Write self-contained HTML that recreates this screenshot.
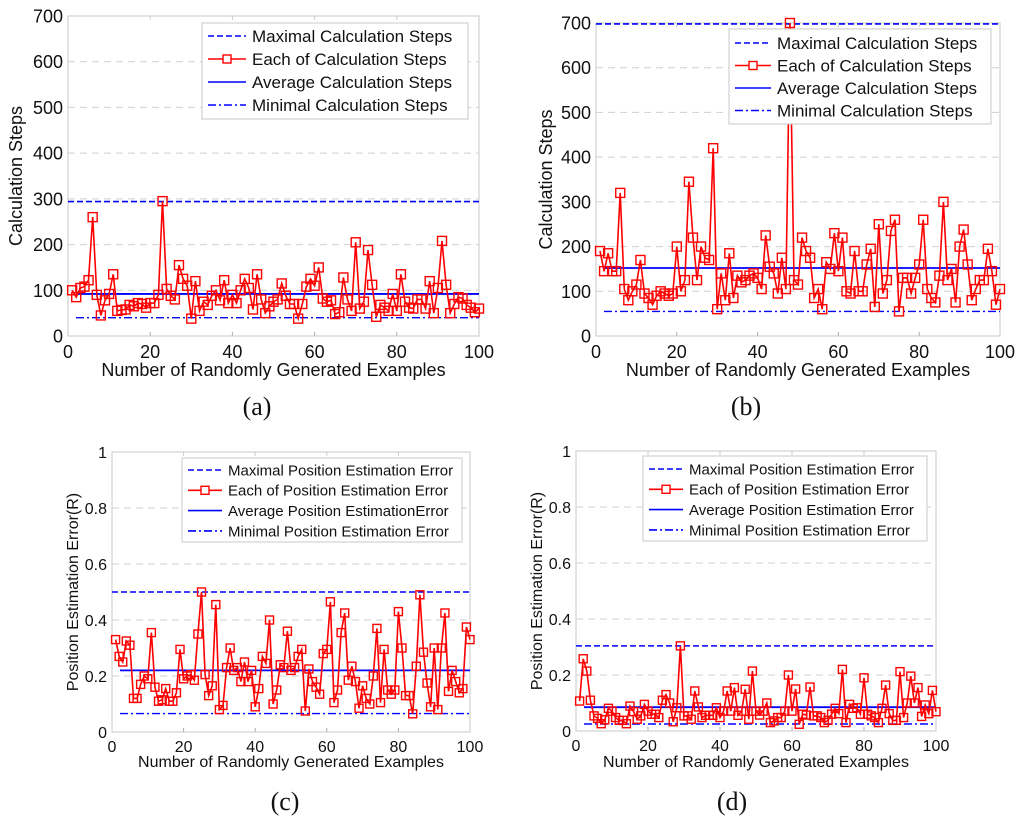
<!DOCTYPE html>
<html><head><meta charset="utf-8"><style>
html,body{margin:0;padding:0;background:#fff;}
svg{display:block;font-family:"Liberation Sans",sans-serif;}
</style></head><body>
<svg id="chart" width="1024" height="822" viewBox="0 0 1024 822" xmlns="http://www.w3.org/2000/svg"></svg>
<script>
const xTicks = [0,20,40,60,80,100];
const stepTicks = [0,100,200,300,400,500,600,700];
const errTicks = [0,0.2,0.4,0.6,0.8,1];
const errTickLabels = ["0","0.2","0.4","0.6","0.8","1"];

const stepsA = [100,85,105,108,122,260,90,45,78,92,135,55,57,58,68,65,72,70,62,72,72,90,295,103,88,80,155,125,110,38,120,55,75,68,88,100,78,122,72,90,72,100,125,105,58,135,80,50,65,75,80,115,88,70,70,38,70,108,125,110,150,82,75,78,48,52,128,80,55,205,60,75,188,112,42,68,62,55,92,55,135,75,62,60,80,80,60,120,50,105,208,112,50,70,85,82,68,62,52,60];
const linesA = [294,92,40];

const stepsB = [190,145,185,145,145,320,105,80,100,115,170,95,85,70,90,100,95,90,95,200,100,125,345,220,125,200,175,170,420,60,140,80,185,85,135,120,125,135,140,130,105,225,155,140,95,175,105,700,125,115,220,190,175,85,105,60,165,150,230,145,220,100,95,190,100,100,160,195,65,250,95,125,235,260,55,130,130,95,130,160,260,105,85,75,135,300,125,150,75,200,238,160,80,105,125,125,195,145,70,105];
const linesB = [698,152,55];

const errC = [0.33,0.27,0.25,0.325,0.31,0.12,0.12,0.17,0.2,0.19,0.355,0.16,0.11,0.115,0.155,0.11,0.11,0.14,0.295,0.19,0.2,0.205,0.185,0.35,0.5,0.205,0.13,0.165,0.455,0.08,0.095,0.23,0.3,0.22,0.23,0.18,0.25,0.18,0.22,0.09,0.155,0.27,0.245,0.4,0.1,0.15,0.24,0.23,0.36,0.22,0.23,0.27,0.295,0.075,0.225,0.18,0.16,0.135,0.28,0.295,0.465,0.105,0.15,0.355,0.425,0.185,0.235,0.18,0.085,0.165,0.12,0.1,0.2,0.37,0.105,0.295,0.15,0.135,0.15,0.43,0.3,0.13,0.13,0.065,0.235,0.49,0.285,0.175,0.09,0.3,0.08,0.3,0.425,0.145,0.22,0.18,0.14,0.155,0.375,0.33];
const linesC = [0.5,0.22,0.066];

const errD = [0.107,0.258,0.214,0.11,0.054,0.045,0.026,0.04,0.081,0.071,0.048,0.038,0.038,0.026,0.089,0.069,0.042,0.054,0.095,0.071,0.06,0.06,0.048,0.11,0.13,0.1,0.033,0.083,0.304,0.054,0.054,0.042,0.143,0.086,0.048,0.056,0.056,0.056,0.083,0.048,0.071,0.143,0.071,0.155,0.056,0.071,0.149,0.042,0.214,0.071,0.057,0.071,0.1,0.03,0.036,0.048,0.048,0.071,0.2,0.071,0.15,0.024,0.06,0.057,0.157,0.054,0.054,0.048,0.03,0.038,0.06,0.081,0.062,0.22,0.03,0.095,0.081,0.083,0.06,0.19,0.06,0.054,0.048,0.03,0.081,0.164,0.062,0.038,0.038,0.212,0.048,0.1,0.196,0.1,0.155,0.052,0.093,0.062,0.145,0.069];
const linesD = [0.304,0.085,0.025];

const NS = "http://www.w3.org/2000/svg";
const svg = document.getElementById('chart');
function mk(tag, attrs, parent){const e=document.createElementNS(NS,tag);for(const k in attrs)e.setAttribute(k,attrs[k]);(parent||svg).appendChild(e);return e;}

function panel(cfg){
  const g = mk('g',{});
  
  
  const sx = v => cfg.x0 + (v - 0) / 100 * (cfg.x1 - cfg.x0);
  const sy = v => cfg.y0 - (v - 0) / cfg.ymax * (cfg.y0 - cfg.y1);
  // grid
  cfg.yTicks.forEach((t,i)=>{
    if(i>0 && i<cfg.yTicks.length-1){
      const l=mk('line',{x1:cfg.x0,x2:cfg.x1,y1:sy(t),y2:sy(t),stroke:'#d0d0d0','stroke-width':1,'stroke-dasharray':'7,5'},g);
      
      
    }
    const tx=mk('text',{x:cfg.x0-5,y:sy(t)+cfg.fs*0.36,'text-anchor':'end','font-size':cfg.fs,fill:'#111'},g);
    tx.textContent=cfg.yLabels[i];
    
    
  });
  xTicks.forEach(t=>{
    mk('line',{x1:sx(t),x2:sx(t),y1:cfg.y0,y2:cfg.y0-4,stroke:'#aaa','stroke-width':1},g);
    mk('line',{x1:sx(t),x2:sx(t),y1:cfg.y1,y2:cfg.y1+4,stroke:'#ccc','stroke-width':1},g);
    const tx=mk('text',{x:sx(t),y:cfg.y0+cfg.fs+4,'text-anchor':'middle','font-size':cfg.fs,fill:'#111'},g);
    tx.textContent=String(t);
    
    
  });
  const box=mk('rect',{x:cfg.x0,y:cfg.y1,width:cfg.x1-cfg.x0,height:cfg.y0-cfg.y1,fill:'none',stroke:'#c8c8c8','stroke-width':1},g);
  
  
  // reference lines
  const styles=[{d:'6,3',w:1.6,n:'max-line'},{d:'',w:1.8,n:'average-line'},{d:'8,3,2,3',w:1.4,n:'min-line'}];
  cfg.lines.forEach((v,i)=>{
    const a={x1:cfg.x0+(i==0?0:8),x2:cfg.x1,y1:sy(v),y2:sy(v),stroke:'#0000ff','stroke-width':styles[i].w};
    if(styles[i].d)a['stroke-dasharray']=styles[i].d;
    const l=mk('line',a,g);
    
    
  });
  // series
  const pts=cfg.data.map((v,i)=>sx(i+1).toFixed(1)+','+sy(v).toFixed(1)).join(' ');
  const pl=mk('polyline',{points:pts,fill:'none',stroke:'#ff0000','stroke-width':1.6},g);
  
  
  const ms=cfg.ms;
  cfg.data.forEach((v,i)=>{
    const r=mk('rect',{x:sx(i+1)-ms/2,y:sy(v)-ms/2,width:ms,height:ms,fill:'none',stroke:'#ff0000','stroke-width':1.4},g);
    
    
  });
  // legend
  const L=cfg.leg;
  const lg=mk('g',{},g);
  
  
  mk('rect',{x:L.x,y:L.y,width:L.w,height:L.h,fill:'#fff',stroke:'#c8c8c8','stroke-width':1},lg);
  const sty=[{d:'6,3',m:false},{d:'',m:true},{d:'',m:false},{d:'8,3,2,3',m:false}];
  cfg.legText.forEach((t,i)=>{
    const yy=L.y+L.top+i*L.dy;
    const col=i==1?'#ff0000':'#0000ff';
    const a={x1:L.x+6,x2:L.x+6+L.sw,y1:yy,y2:yy,stroke:col,'stroke-width':1.6};
    if(sty[i].d)a['stroke-dasharray']=sty[i].d;
    mk('line',a,lg);
    if(sty[i].m)mk('rect',{x:L.x+6+L.sw/2-4,y:yy-4,width:8,height:8,fill:'#fff',stroke:'#ff0000','stroke-width':1.4},lg);
    const tx=mk('text',{x:L.x+12+L.sw,y:yy+L.fs*0.36,'font-size':L.fs,fill:'#111'},lg);
    tx.textContent=t;
    
    
  });
  // titles
  const xt=mk('text',{x:(cfg.x0+cfg.x1)/2,y:cfg.xtY,'text-anchor':'middle','font-size':cfg.tfs,fill:'#111'},g);
  xt.textContent='Number of Randomly Generated Examples';
  
  
  const yt=mk('text',{x:0,y:0,'text-anchor':'middle','font-size':cfg.tfs,fill:'#111',transform:`translate(${cfg.ytX},${(cfg.y0+cfg.y1)/2}) rotate(-90)`},g);
  yt.textContent=cfg.yTitle;
  
  
  const pt=mk('text',{x:cfg.lab[0],y:cfg.lab[1],'text-anchor':'middle','font-size':26,fill:'#111','font-family':'"Liberation Serif",serif'},g);
  pt.textContent=cfg.label;
  
  
}

const legSteps=['Maximal Calculation Steps','Each of Calculation Steps','Average Calculation Steps','Minimal Calculation Steps'];
panel({id:'panel-a',x0:68,x1:479,y0:336,y1:16,ymax:700,yTicks:stepTicks,yLabels:stepTicks.map(String),fs:18,tfs:18,ms:9,
  data:stepsA,lines:linesA,leg:{x:202,y:23,w:266,h:96,top:13,dy:23,sw:38,fs:17},legText:legSteps,
  xtY:376,ytX:22,yTitle:'Calculation Steps',label:'(a)',lab:[257,415]});
panel({id:'panel-b',x0:596,x1:1000,y0:336,y1:23,ymax:700,yTicks:stepTicks,yLabels:stepTicks.map(String),fs:18,tfs:18,ms:9,
  data:stepsB,lines:linesB,leg:{x:729,y:29,w:262,h:95,top:14,dy:22.5,sw:36,fs:17},legText:legSteps,
  xtY:376,ytX:552,yTitle:'Calculation Steps',label:'(b)',lab:[746,415]});
panel({id:'panel-c',x0:112,x1:470,y0:732,y1:452,ymax:1,yTicks:errTicks,yLabels:errTickLabels,fs:16,tfs:16,ms:8,
  data:errC,lines:linesC,leg:{x:182,y:458,w:280,h:84,top:12,dy:20.3,sw:34,fs:15},
  legText:['Maximal Position Estimation Error','Each of Position Estimation Error','Average Position EstimationError','Minimal Position Estimation Error'],
  xtY:767,ytX:78,yTitle:'Position Estimation Error(R)',label:'(c)',lab:[285,810]});
panel({id:'panel-d',x0:576,x1:936,y0:731,y1:451,ymax:1,yTicks:errTicks,yLabels:errTickLabels,fs:16,tfs:16,ms:8,
  data:errD,lines:linesD,leg:{x:643,y:456,w:284,h:85,top:13,dy:20.3,sw:34,fs:15},
  legText:['Maximal Position Estimation Error','Each of Position Estimation Error','Average Position Estimation Error','Minimal Position Estimation Error'],
  xtY:767,ytX:542,yTitle:'Position Estimation Error(R)',label:'(d)',lab:[732,810]});
</script>
</body></html>
